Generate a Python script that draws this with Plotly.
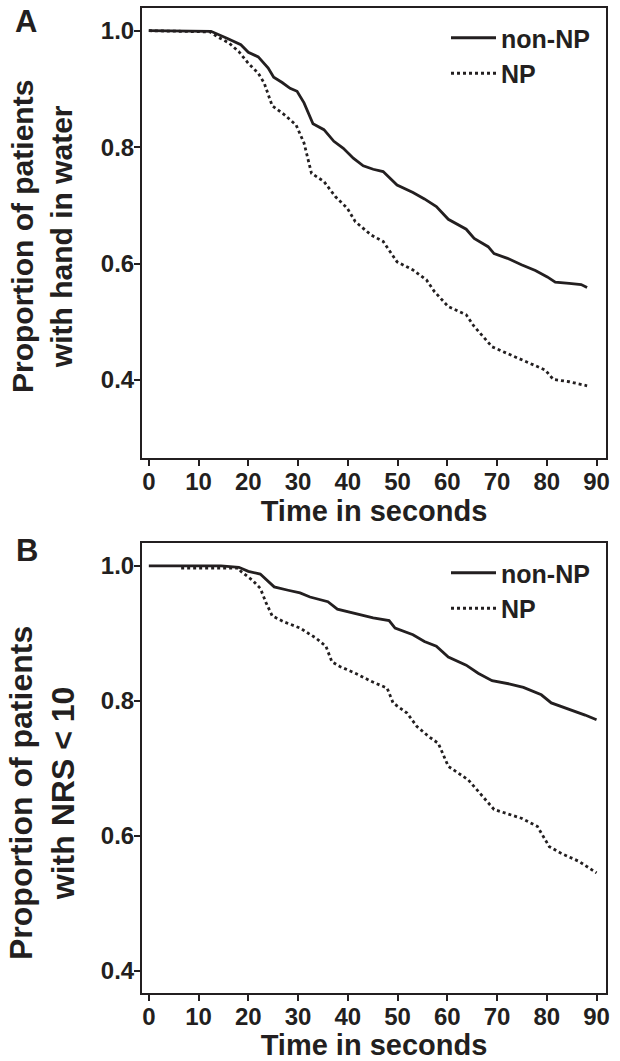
import plotly.graph_objects as go

# ---------------- data ----------------
# Panel A: proportion of patients with hand in water
A_nonNP_t = [0, 12.5, 15.7, 18.5, 20.0, 22.0, 24.0, 25.1, 26.8, 28.4, 29.8, 31.2, 33.0, 35.2, 37.2,
             39.1, 41.1, 43.1, 45.1, 47.1, 49.9, 53.1, 55.4, 57.8, 60.2, 63.8, 65.4, 68.2, 69.4,
             72.1, 74.9, 77.7, 80.1, 81.7, 84.5, 86.9, 88.1]
A_nonNP_p = [1.0, 0.999, 0.987, 0.976, 0.963, 0.955, 0.936, 0.920, 0.911, 0.901, 0.896, 0.876, 0.840,
             0.830, 0.810, 0.798, 0.781, 0.768, 0.762, 0.758, 0.735, 0.722, 0.711, 0.698, 0.676,
             0.659, 0.643, 0.629, 0.617, 0.609, 0.598, 0.588, 0.577, 0.568, 0.566, 0.564, 0.559]

A_NP_t = [0, 12.3, 13.7, 16.1, 18.1, 20.0, 22.0, 23.2, 24.8, 27.2, 29.6, 31.2, 32.7, 35.2, 37.5,
          39.9, 41.5, 44.7, 47.1, 49.9, 53.1, 55.8, 57.4, 60.2, 63.8, 65.4, 69.0, 72.6, 76.5,
          79.7, 81.3, 84.5, 88.1]
A_NP_p = [1.0, 0.998, 0.990, 0.979, 0.964, 0.944, 0.927, 0.910, 0.871, 0.856, 0.838, 0.807, 0.755,
          0.741, 0.715, 0.695, 0.672, 0.649, 0.638, 0.603, 0.589, 0.572, 0.552, 0.526, 0.512,
          0.492, 0.457, 0.443, 0.429, 0.417, 0.401, 0.397, 0.390]

# Panel B: proportion of patients with NRS < 10
B_nonNP_t = [0, 14.5, 18.1, 20.0, 22.4, 25.2, 28.0, 30.4, 32.4, 36.0, 37.9, 41.5, 45.1, 48.3, 49.5,
             53.1, 55.4, 57.8, 60.2, 63.8, 66.2, 69.0, 72.6, 75.3, 78.9, 80.9, 84.5, 87.7, 90.0]
B_nonNP_p = [1.0, 1.0, 0.998, 0.992, 0.988, 0.969, 0.964, 0.960, 0.954, 0.947, 0.936, 0.930, 0.923,
             0.919, 0.908, 0.898, 0.888, 0.881, 0.865, 0.853, 0.841, 0.830, 0.825, 0.820, 0.809,
             0.797, 0.788, 0.779, 0.772]

B_NP_t = [6.5, 18.0, 18.5, 20.8, 22.4, 23.6, 24.8, 27.2, 30.4, 33.6, 35.6, 36.8, 38.4, 41.5, 44.7,
          47.9, 49.1, 51.9, 53.9, 56.3, 58.2, 60.2, 64.2, 66.6, 69.4, 74.9, 78.1, 80.5, 82.9,
          86.5, 90.0]
B_NP_p = [0.997, 0.997, 0.992, 0.979, 0.967, 0.945, 0.926, 0.917, 0.908, 0.893, 0.881, 0.858, 0.851,
          0.841, 0.829, 0.819, 0.797, 0.782, 0.762, 0.747, 0.737, 0.703, 0.683, 0.663, 0.639,
          0.626, 0.614, 0.584, 0.574, 0.562, 0.545]

series_names = ["non-NP", "NP"]
x_ticks = [0, 10, 20, 30, 40, 50, 60, 70, 80, 90]
y_ticks = [0.4, 0.6, 0.8, 1.0]
y_ticktext = ["0.4", "0.6", "0.8", "1.0"]
x_title = "Time in seconds"
yA_title = "Proportion of patients<br>with hand in water"
yB_title = "Proportion of patients<br>with NRS &lt; 10"
panel_labels = ["A", "B"]

# ---------------- style ----------------
INK = "#231f20"
FAM = "Liberation Sans, Arial, sans-serif"

fig = go.Figure()

def add_pair(t1, p1, t2, p2, xa, ya, leg):
    fig.add_trace(go.Scatter(x=t1, y=p1, mode="lines", name=series_names[0],
                             line=dict(color=INK, width=2.8), xaxis=xa, yaxis=ya, legend=leg))
    fig.add_trace(go.Scatter(x=t2, y=p2, mode="lines", name=series_names[1],
                             line=dict(color=INK, width=2.8, dash="dot"), xaxis=xa, yaxis=ya, legend=leg))

add_pair(A_nonNP_t, A_nonNP_p, A_NP_t, A_NP_p, "x", "y", "legend")
add_pair(B_nonNP_t, B_nonNP_p, B_NP_t, B_NP_p, "x2", "y2", "legend2")

W, H = 620, 1061
ML, MR, MT, MB = 142, 14, 8, 68
PW = W - ML - MR
PH = H - MT - MB

def py(pix):  # pixel y -> paper y
    return (H - MB - pix) / PH

def px(pix):
    return (pix - ML) / PW

axis_common = dict(showline=True, mirror=True, linecolor=INK, linewidth=2,
                   ticks="outside", ticklen=6, tickwidth=1.5, tickcolor=INK,
                   showgrid=False, zeroline=False, ticklabelstandoff=-5,
                   tickfont=dict(family=FAM, size=24, color=INK, weight="bold"))

xcommon = dict(axis_common, range=[-1.37, 91.9], tickmode="array", tickvals=x_ticks,
               ticktext=[str(v) for v in x_ticks],
               title=dict(text=x_title, font=dict(family=FAM, size=29, color=INK, weight="bold"),
                          standoff=4))

leg_font = dict(family=FAM, size=25, color=INK, weight="bold")

fig.update_layout(
    width=W, height=H,
    margin=dict(l=ML, r=MR, t=MT, b=MB, autoexpand=False),
    paper_bgcolor="white", plot_bgcolor="white",
    showlegend=True,
    xaxis=dict(xcommon, anchor="y", domain=[0, 1]),
    yaxis=dict(axis_common, anchor="x", domain=[py(458), 1.0], range=[0.266, 1.039],
               tickmode="array", tickvals=y_ticks, ticktext=y_ticktext),
    xaxis2=dict(xcommon, anchor="y2", domain=[0, 1]),
    yaxis2=dict(axis_common, anchor="x2", domain=[0, py(543.3)], range=[0.367, 1.0336],
                tickmode="array", tickvals=y_ticks, ticktext=y_ticktext),
    legend=dict(x=px(446), y=py(15), xanchor="left", yanchor="top",
                bgcolor="rgba(0,0,0,0)", borderwidth=0, itemwidth=45,
                font=leg_font, tracegroupgap=0),
    legend2=dict(x=px(446), y=py(550), xanchor="left", yanchor="top",
                 bgcolor="rgba(0,0,0,0)", borderwidth=0, itemwidth=45,
                 font=leg_font, tracegroupgap=0),
)

fig.add_annotation(text=yA_title, xref="paper", yref="paper", x=px(42), y=py(237),
                   textangle=-90, showarrow=False, xanchor="center", yanchor="middle",
                   font=dict(family=FAM, size=30, color=INK, weight="bold"))
fig.add_annotation(text=yB_title, xref="paper", yref="paper", x=px(42), y=py(793),
                   textangle=-90, showarrow=False, xanchor="center", yanchor="middle",
                   font=dict(family=FAM, size=32, color=INK, weight="bold"))
lab_font = dict(family=FAM, size=31, color=INK, weight="bold")
fig.add_annotation(text=panel_labels[0], xref="paper", yref="paper", x=px(26), y=py(22),
                   showarrow=False, xanchor="center", yanchor="middle", font=lab_font)
fig.add_annotation(text=panel_labels[1], xref="paper", yref="paper", x=px(27), y=py(550),
                   showarrow=False, xanchor="center", yanchor="middle", font=lab_font)

fig.write_html("out.html", config={"displayModeBar": False},
               post_script="document.body.style.margin='0';")
